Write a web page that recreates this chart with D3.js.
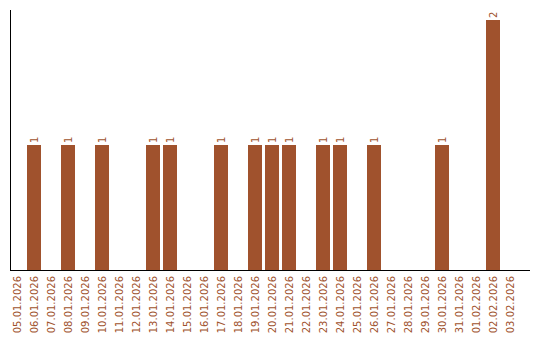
<!DOCTYPE html>
<html>
<head>
<meta charset="utf-8">
<script src="https://cdn.jsdelivr.net/npm/d3@7"></script>
<style>
  body { margin: 0; background: #fff; }
  text { font-family: "DejaVu Sans", sans-serif; font-size: 10px; fill: #a0522d; }
</style>
</head>
<body>
<script>
// Dates (tick labels) and counts per day
const dates = [
  '05.01.2026', '06.01.2026', '07.01.2026', '08.01.2026', '09.01.2026',
  '10.01.2026', '11.01.2026', '12.01.2026', '13.01.2026', '14.01.2026',
  '15.01.2026', '16.01.2026', '17.01.2026', '18.01.2026', '19.01.2026',
  '20.01.2026', '21.01.2026', '22.01.2026', '23.01.2026', '24.01.2026',
  '25.01.2026', '26.01.2026', '27.01.2026', '28.01.2026', '29.01.2026',
  '30.01.2026', '31.01.2026', '01.02.2026', '02.02.2026', '03.02.2026'
];
const counts = [
  0, 1, 0, 1, 0,
  1, 0, 0, 1, 1,
  0, 0, 1, 0, 1,
  1, 1, 0, 1, 1,
  0, 1, 0, 0, 0,
  1, 0, 0, 2, 0
];
const yMax = 2;

const svgWidth = 540, svgHeight = 340;
const margin = { left: 10, right: 10, top: 10, bottom: 70 };
const baseY = svgHeight - margin.bottom; // 270
const barColor = '#a0522d';

const svg = d3.select('body')
  .append('svg')
  .attr('width', svgWidth)
  .attr('height', svgHeight);

// Band scale; the bars sit on a 17px step starting a bit inside the axis
const x = d3.scaleBand()
  .domain(dates)
  .range([8.5, 8.5 + 17 * dates.length])
  .paddingInner(3 / 17)
  .paddingOuter(3 / 34);

const y = d3.scaleLinear()
  .domain([0, yMax])
  .range([baseY, 20]);

const data = dates.map((d, i) => ({ date: d, value: counts[i] }));

// bars
svg.append('g')
  .selectAll('rect')
  .data(data.filter(d => d.value > 0))
  .enter()
  .append('rect')
  .attr('x', d => x(d.date))
  .attr('y', d => y(d.value))
  .attr('width', x.bandwidth())
  .attr('height', d => baseY - y(d.value))
  .attr('fill', barColor);

// value labels, rotated
svg.append('g')
  .selectAll('text')
  .data(data.filter(d => d.value > 0))
  .enter()
  .append('text')
  .attr('transform', d => `translate(${x(d.date) + x.bandwidth() / 2},${y(d.value) - 2}) rotate(-90)`)
  .attr('dy', '0.35em')
  .attr('text-anchor', 'start')
  .text(d => d.value);

// x axis
const xAxis = svg.append('g')
  .attr('transform', `translate(0,${baseY})`)
  .call(d3.axisBottom(x).tickSize(0).tickPadding(0));
xAxis.select('.domain').remove();
xAxis.selectAll('text')
  .attr('transform', 'rotate(-90)')
  .attr('x', -6)
  .attr('y', 0)
  .attr('dy', '0.35em')
  .attr('text-anchor', 'end')
  .style('font-family', '"DejaVu Sans", sans-serif')
  .style('font-size', '10px')
  .attr('fill', barColor);

svg.append('line')
  .attr('x1', margin.left).attr('x2', svgWidth - margin.right)
  .attr('y1', baseY + 0.5).attr('y2', baseY + 0.5)
  .attr('stroke', '#000');

// y axis line, no ticks
svg.append('line')
  .attr('x1', margin.left + 0.5).attr('x2', margin.left + 0.5)
  .attr('y1', margin.top).attr('y2', baseY)
  .attr('stroke', '#000');
</script>
</body>
</html>
